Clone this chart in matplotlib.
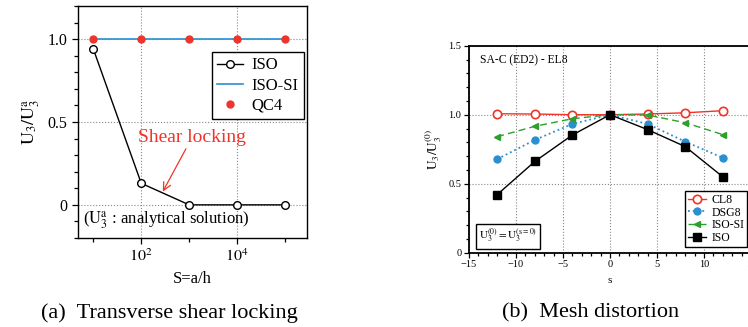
import numpy as np
import matplotlib
matplotlib.use("Agg")
import matplotlib.pyplot as plt
from matplotlib.ticker import FixedLocator, MultipleLocator, NullFormatter

plt.rcParams["font.family"] = ["Liberation Serif", "DejaVu Serif"]
plt.rcParams["mathtext.fontset"] = "stix"

# (a) 横向剪切锁定
S = [1e1, 1e2, 1e3, 1e4, 1e5]
iso_a = [0.94, 0.13, 0.0, 0.0, 0.0]
iso_si_a = [1.0, 1.0, 1.0, 1.0, 1.0]
qc4_a = [1.0, 1.0, 1.0, 1.0, 1.0]

# (b) 网格畸变
s = [-12, -8, -4, 0, 4, 8, 12]
cl8 = [1.007, 1.005, 1.0, 1.0, 1.005, 1.014, 1.029]
dsg8 = [0.678, 0.817, 0.933, 1.0, 0.933, 0.805, 0.688]
iso_si_b = [0.841, 0.916, 0.971, 1.0, 0.998, 0.942, 0.856]
iso_b = [0.421, 0.661, 0.853, 1.0, 0.892, 0.769, 0.550]

RED = "#f0342a"
BLUE = "#2a8fd0"
GREEN = "#2ca02c"

fig = plt.figure(figsize=(7.48, 3.27), dpi=100)

# ---------------- 左图 ----------------
ax1 = fig.add_axes([0.1043, 0.2722, 0.3061, 0.7095])
ax1.plot(S, iso_a, color="black", lw=1.0, marker="o", ms=5.5,
         mfc="white", mec="black", mew=1.0, label="ISO", zorder=4)
ax1.plot(S, iso_si_a, color=BLUE, lw=1.2, label="ISO-SI", zorder=3)
ax1.plot(S, qc4_a, ls="none", marker="o", ms=5, color=RED,
         label="QC4", zorder=5)
ax1.set_xscale("log")
ax1.set_xlim(10 ** 0.68, 10 ** 5.46)
ax1.set_ylim(-0.2, 1.2)
ax1.xaxis.set_major_locator(FixedLocator([1e2, 1e4]))
ax1.xaxis.set_minor_locator(FixedLocator([1e1, 1e3, 1e5]))
ax1.xaxis.set_minor_formatter(NullFormatter())
ax1.set_xticklabels([r"$10^2$", r"$10^4$"])
ax1.set_yticks([0, 0.5, 1.0])
ax1.set_yticklabels(["0", "0.5", "1.0"])
ax1.yaxis.set_minor_locator(MultipleLocator(0.1))
ax1.tick_params(which="both", direction="out", labelsize=11.5,
                top=False, right=False)
ax1.tick_params(which="major", length=4, width=0.9)
ax1.tick_params(which="minor", length=3, width=0.9)
ax1.grid(True, which="major", ls=":", color="#888888", lw=0.8)
ax1.set_xlabel("S=a/h", fontsize=12, labelpad=4)
ax1.set_ylabel(r"$\mathrm{U_3/U_3^a}$", fontsize=13, labelpad=4)
ax1.legend(loc="upper right", bbox_to_anchor=(0.985, 0.80),
           borderaxespad=0, fontsize=12, fancybox=False, framealpha=1,
           edgecolor="black", handlelength=1.6, handletextpad=0.5,
           borderpad=0.3, labelspacing=0.25)
ax1.annotate("Shear locking", xy=(10 ** 2.45, 0.08),
             xytext=(10 ** 3.06, 0.355), color=RED, fontsize=14,
             ha="center", va="bottom",
             arrowprops=dict(arrowstyle="->", color=RED, lw=0.9,
                             shrinkA=0, shrinkB=0))
ax1.text(0.02, 0.03, r"($\mathrm{U_3^a}$ : analytical solution)",
         transform=ax1.transAxes, fontsize=12, ha="left", va="bottom")
for sp in ax1.spines.values():
    sp.set_linewidth(1.0)

# ---------------- 右图 ----------------
ax2 = fig.add_axes([0.627, 0.2272, 0.377, 0.633])
ax2.plot(s, cl8, color=RED, lw=1.0, marker="o", ms=6, mfc="white",
         mec=RED, mew=1.2, label="CL8", zorder=3)
ax2.plot(s, dsg8, color=BLUE, lw=1.3, ls=":", marker="o", ms=5,
         mfc=BLUE, mec=BLUE, label="DSG8", zorder=3)
ax2.plot(s, iso_si_b, color=GREEN, lw=1.0, ls=(0, (5, 3)), marker="<",
         ms=5, mfc=GREEN, mec=GREEN, label="ISO-SI", zorder=3)
ax2.plot(s, iso_b, color="black", lw=1.0, marker="s", ms=5.5,
         mfc="black", mec="black", label="ISO", zorder=4)
ax2.set_xlim(-15, 15)
ax2.set_ylim(0, 1.5)
ax2.xaxis.set_minor_locator(MultipleLocator(1))
ax2.yaxis.set_minor_locator(MultipleLocator(0.1))
ax2.yaxis.set_major_locator(FixedLocator([0, 0.5, 1.0, 1.5]))
ax2.set_yticklabels(["0", "0.5", "1.0", "1.5"])
ax2.set_xticks([-15, -10, -5, 0, 5, 10, 15])
ax2.set_xticklabels(["\u221215", "\u221210", "\u22125", "0", "5", "10", "15"])
ax2.tick_params(which="both", direction="out", labelsize=7.5,
                top=False, right=False, pad=2)
ax2.tick_params(which="major", length=3.5, width=0.9)
ax2.tick_params(which="minor", length=2.2, width=0.9)
ax2.grid(True, which="major", ls=":", color="#888888", lw=0.8)
ax2.set_xlabel("s", fontsize=8, labelpad=5)
ax2.set_ylabel(r"$\mathrm{U_3/U_3^{(0)}}$", fontsize=9.5, labelpad=3)
ax2.legend(loc="lower right", bbox_to_anchor=(0.986, 0.028),
           borderaxespad=0, fontsize=8.5, fancybox=False, framealpha=1,
           edgecolor="black", handlelength=1.6, handletextpad=0.4,
           borderpad=0.25, labelspacing=0.06)
ax2.text(0.04, 0.96, "SA-C (ED2) - EL8", transform=ax2.transAxes,
         fontsize=8.4, ha="left", va="top")
ax2.text(0.035, 0.035, r"$\mathrm{U_3^{(0)}=U_3^{(s=0)}}$",
         transform=ax2.transAxes, fontsize=8, ha="left", va="bottom",
         bbox=dict(boxstyle="square,pad=0.3", fc="white", ec="black",
                   lw=1.0))
for sp in ax2.spines.values():
    sp.set_linewidth(1.3)

# 子图标题
fig.text(0.2266, 0.043, "(a)  Transverse shear locking", fontsize=16,
         ha="center", va="center")
fig.text(0.789, 0.043, "(b)  Mesh distortion", fontsize=16,
         ha="center", va="center")

fig.savefig("out.png", dpi=100)
